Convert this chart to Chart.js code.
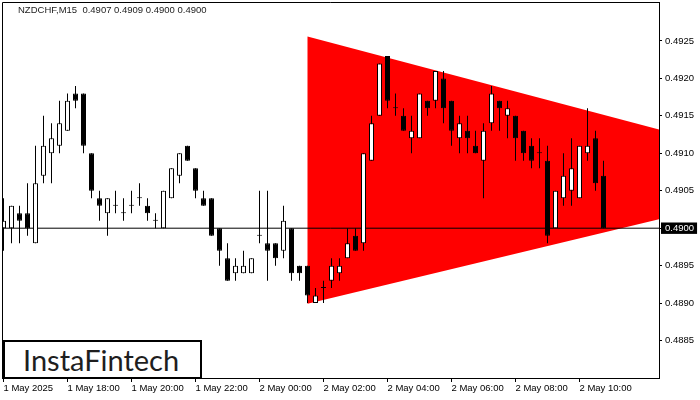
<!DOCTYPE html>
<html>
<head>
<meta charset="utf-8">
<title>NZDCHF M15</title>
<script src="https://cdn.jsdelivr.net/npm/chart.js@4.4.1/dist/chart.umd.min.js"></script>
<style>
    html, body { margin: 0; padding: 0; background: #fff; }
    #wrap { position: relative; width: 700px; height: 400px; overflow: hidden; }
    #chart { display: block; }
    #title {
        position: absolute; left: 18px; top: 4px;
        font: 9.5px "Liberation Sans", Arial, sans-serif; color: #222; white-space: pre;
    }
    #logo {
        position: absolute; left: 3px; top: 340px; width: 199px; height: 39px;
        box-sizing: border-box; border: 2px solid #000; background: #fff;
        font: 29px Lato, "Open Sans", sans-serif; color: #1e1e1e;
        line-height: 35px; padding-left: 18px;
    }
</style>
</head>
<body>
<div id="wrap">
    <canvas id="chart" width="700" height="400"></canvas>
    <div id="title">NZDCHF,M15  0.4907 0.4909 0.4900 0.4900</div>
    <div id="logo">InstaFintech</div>
</div>
<script>
// 15 minute bars from 1 May 16:00, one per index
const opens  = [0.4900, 0.4900, 0.4902, 0.4902, 0.4898, 0.4907, 0.4910, 0.4911, 0.4913, 0.4918,
                0.4918, 0.4910, 0.4904, 0.4902, 0.4903, 0.4902, 0.4903, 0.4904, 0.4903, 0.4901,
                0.4900, 0.4904, 0.4907, 0.4911, 0.4908, 0.4904, 0.4904, 0.4900, 0.4896, 0.4894,
                0.4894, 0.4894, 0.4899, 0.4898, 0.4898, 0.4897, 0.4900, 0.4895, 0.4895, 0.4890,
                0.4892, 0.4893, 0.4894, 0.4896, 0.4899, 0.4898, 0.4909, 0.4915, 0.4923, 0.4916,
                0.4915, 0.4912, 0.4912, 0.4917, 0.4917, 0.4920, 0.4917, 0.4912, 0.4913, 0.4911,
                0.4909, 0.4914, 0.4917, 0.4915, 0.4915, 0.4913, 0.4911, 0.4910, 0.4909, 0.4900,
                0.4904, 0.4905, 0.4904, 0.4910, 0.4912, 0.4907];
const highs  = [0.4904, 0.4903, 0.4903, 0.4906, 0.4911, 0.4915, 0.4914, 0.4917, 0.4918, 0.4919,
                0.4918, 0.4910, 0.4905, 0.4904, 0.4905, 0.4904, 0.4905, 0.4906, 0.4904, 0.4902,
                0.4905, 0.4908, 0.4910, 0.4911, 0.4908, 0.4905, 0.4904, 0.4900, 0.4898, 0.4896,
                0.4897, 0.4896, 0.4905, 0.4905, 0.4898, 0.4903, 0.4900, 0.4895, 0.4895, 0.4892,
                0.4893, 0.4896, 0.4896, 0.4900, 0.4900, 0.4910, 0.4915, 0.4922, 0.4923, 0.4918,
                0.4916, 0.4915, 0.4918, 0.4917, 0.4921, 0.4921, 0.4917, 0.4915, 0.4915, 0.4913,
                0.4914, 0.4919, 0.4917, 0.4917, 0.4915, 0.4913, 0.4912, 0.4912, 0.4911, 0.4905,
                0.4910, 0.4912, 0.4911, 0.4916, 0.4913, 0.4909];
const lows   = [0.4897, 0.4898, 0.4898, 0.4899, 0.4898, 0.4906, 0.4906, 0.4910, 0.4913, 0.4916,
                0.4910, 0.4904, 0.4901, 0.4899, 0.4902, 0.4901, 0.4902, 0.4903, 0.4901, 0.4900,
                0.4900, 0.4904, 0.4906, 0.4909, 0.4904, 0.4903, 0.4899, 0.4895, 0.4893, 0.4893,
                0.4894, 0.4894, 0.4898, 0.4893, 0.4895, 0.4896, 0.4893, 0.4893, 0.4890, 0.4890,
                0.4890, 0.4892, 0.4893, 0.4896, 0.4897, 0.4897, 0.4909, 0.4915, 0.4916, 0.4915,
                0.4913, 0.4910, 0.4912, 0.4915, 0.4916, 0.4914, 0.4911, 0.4910, 0.4910, 0.4910,
                0.4904, 0.4913, 0.4913, 0.4912, 0.4909, 0.4909, 0.4908, 0.4908, 0.4898, 0.4900,
                0.4903, 0.4903, 0.4904, 0.4909, 0.4905, 0.4900];
const closes = [0.4901, 0.4903, 0.4901, 0.4900, 0.4906, 0.4911, 0.4912, 0.4914, 0.4917, 0.4917,
                0.4911, 0.4905, 0.4903, 0.4904, 0.4903, 0.4902, 0.4903, 0.4904, 0.4902, 0.4901,
                0.4905, 0.4908, 0.4910, 0.4909, 0.4905, 0.4903, 0.4899, 0.4897, 0.4893, 0.4895,
                0.4895, 0.4896, 0.4899, 0.4897, 0.4896, 0.4901, 0.4894, 0.4894, 0.4891, 0.4891,
                0.4892, 0.4895, 0.4895, 0.4898, 0.4897, 0.4910, 0.4914, 0.4922, 0.4917, 0.4916,
                0.4913, 0.4913, 0.4918, 0.4916, 0.4921, 0.4916, 0.4913, 0.4914, 0.4912, 0.4910,
                0.4913, 0.4918, 0.4916, 0.4916, 0.4912, 0.4910, 0.4909, 0.4910, 0.4899, 0.4905,
                0.4907, 0.4908, 0.4911, 0.4911, 0.4906, 0.4900];

// triangle pattern corners (bar index, price)
const triangleX = [38, 104.2, 38];
const triangleY = [0.49256, 0.49069, 0.48899];
const levelPrice = 0.4900;

// axis ticks
const xTickBars = [0, 8, 16, 24, 32, 40, 48, 56, 64, 72];
const xTickLabels = ['1 May 2025', '1 May 18:00', '1 May 20:00', '1 May 22:00', '2 May 00:00',
                     '2 May 02:00', '2 May 04:00', '2 May 06:00', '2 May 08:00', '2 May 10:00'];
const yTicks = [0.4925, 0.4920, 0.4915, 0.4910, 0.4905, 0.4900, 0.4895, 0.4890, 0.4885];

const wickData = opens.map((o, i) => ({ x: i, y: [lows[i], highs[i]] }));
const bodyData = opens.map((o, i) => ({ x: i, y: [Math.min(o, closes[i]), Math.max(o, closes[i])] }));
const bodyColors = opens.map((o, i) => closes[i] > o ? '#ffffff' : '#000000');

// frame around the plot area
const framePlugin = {
    id: 'frame',
    afterDraw(chart) {
        const { ctx, chartArea: a } = chart;
        ctx.save();
        ctx.strokeStyle = '#000';
        ctx.lineWidth = 1;
        ctx.beginPath();
        ctx.moveTo(a.left + 0.5, a.bottom);
        ctx.lineTo(a.left + 0.5, a.top + 0.5);
        ctx.lineTo(a.right, a.top + 0.5);
        ctx.stroke();
        ctx.restore();
    }
};

Chart.defaults.font.family = '"Liberation Sans", Arial, sans-serif';
Chart.defaults.font.size = 9.5;
Chart.defaults.color = '#000';

new Chart(document.getElementById('chart'), {
    type: 'bar',
    data: {
        datasets: [
            {
                type: 'bar', data: bodyData, order: 0, grouped: false,
                barThickness: 5, minBarLength: 1, inflateAmount: 0,
                backgroundColor: bodyColors, borderColor: '#000', borderWidth: 1, borderSkipped: false
            },
            {
                type: 'bar', data: wickData, order: 1, grouped: false,
                barThickness: 1, inflateAmount: 0,
                backgroundColor: '#000', borderWidth: 0
            },
            {
                type: 'line', order: 2,
                data: [{ x: -1, y: levelPrice }, { x: 90, y: levelPrice }],
                borderColor: '#000', borderWidth: 1, pointRadius: 0, fill: false
            },
            {
                type: 'line', order: 3,
                data: triangleX.map((x, i) => ({ x, y: triangleY[i] })),
                borderWidth: 0, pointRadius: 0, backgroundColor: '#ff0000', fill: 'shape'
            }
        ]
    },
    options: {
        responsive: false,
        animation: false,
        layout: { padding: { left: 2, top: 2, right: 0, bottom: 0 } },
        plugins: { legend: { display: false }, tooltip: { enabled: false } },
        scales: {
            x: {
                type: 'linear', min: -0.1875, max: 81.9375, offset: false,
                grid: { offset: false, drawOnChartArea: false, color: '#000', tickLength: 4 },
                border: { color: '#000' },
                afterBuildTicks: s => { s.ticks = xTickBars.map(v => ({ value: v })); },
                afterFit: s => { s.height = 22; s.paddingLeft = 0; s.paddingRight = 0; },
                ticks: {
                    autoSkip: false, maxRotation: 0, align: 'start', padding: 1,
                    callback: (v, i) => xTickLabels[i]
                }
            },
            y: {
                position: 'right', min: 0.4880, max: 0.49302,
                grid: { drawOnChartArea: false, color: '#000', tickLength: 3 },
                border: { color: '#000' },
                afterBuildTicks: s => { s.ticks = yTicks.map(v => ({ value: v })); },
                afterFit: s => { s.width = 41; s.paddingTop = 0; s.paddingBottom = 0; },
                ticks: {
                    padding: 3,
                    callback: v => v.toFixed(4),
                    color: c => Math.abs(c.tick.value - levelPrice) < 1e-7 ? '#fff' : '#000',
                    showLabelBackdrop: c => Math.abs(c.tick.value - levelPrice) < 1e-7,
                    backdropColor: '#000',
                    backdropPadding: { left: 4, right: 3, top: 0, bottom: 0 }
                }
            }
        }
    },
    plugins: [framePlugin]
});
</script>
</body>
</html>
